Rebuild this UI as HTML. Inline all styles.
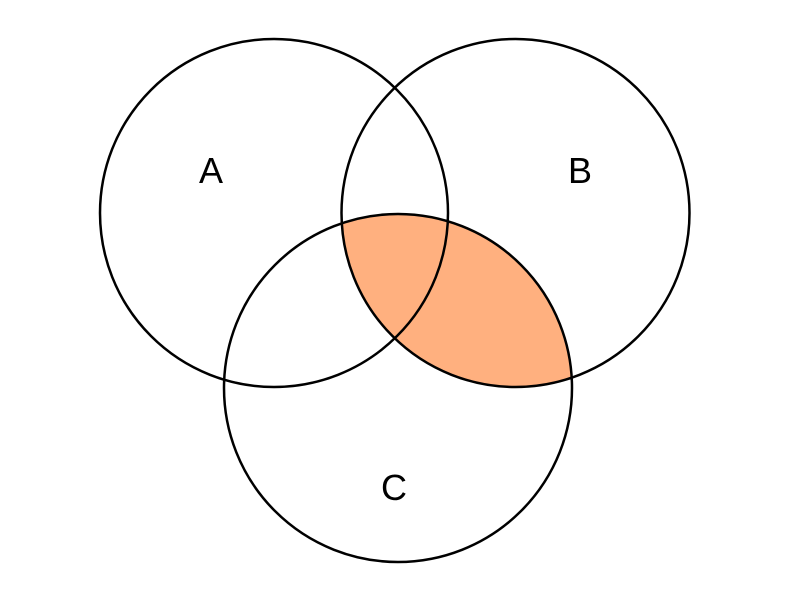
<!DOCTYPE html>
<html><head><style>body{margin:0;background:#fff}svg{display:block}</style></head><body>
<svg width="800" height="600" xmlns="http://www.w3.org/2000/svg">
<defs><clipPath id="cb"><circle cx="515.5" cy="213" r="174"/></clipPath></defs>
<rect width="800" height="600" fill="#fff"/>
<circle cx="398" cy="388" r="174" fill="#FFB07F" clip-path="url(#cb)"/>
<g fill="none" stroke="#000" stroke-width="2.5">
<circle cx="274" cy="213" r="174"/>
<circle cx="515.5" cy="213" r="174"/>
<circle cx="398" cy="388" r="174"/>
</g>
<g font-family="Liberation Sans, sans-serif" font-size="36" text-anchor="middle">
<text x="211" y="183">A</text>
<text x="580" y="183">B</text>
<text x="394" y="500">C</text>
</g>
</svg>
</body></html>
